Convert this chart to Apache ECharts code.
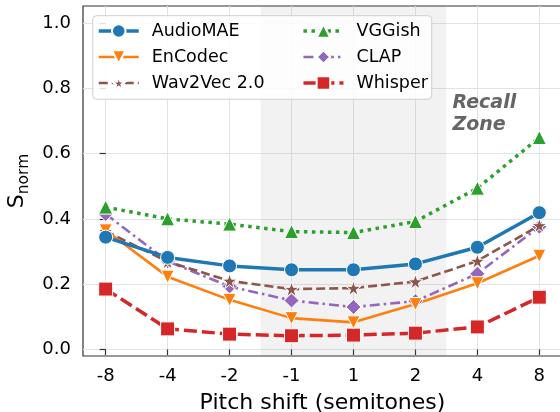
<!DOCTYPE html>
<html>
<head>
<meta charset="utf-8">
<script src="https://cdn.jsdelivr.net/npm/echarts@6/dist/echarts.min.js"></script>
<style>html,body{margin:0;padding:0;background:#fff;}#c{width:560px;height:412px;}</style>
</head>
<body>
<div id="c"></div>
<script>
const categories = ['-8', '-4', '-2', '-1', '1', '2', '4', '8'];
const audioMAE = [0.344, 0.282, 0.256, 0.244, 0.244, 0.262, 0.313, 0.419];
const enCodec  = [0.365, 0.223, 0.152, 0.096, 0.083, 0.139, 0.203, 0.287];
const wav2vec  = [0.362, 0.269, 0.210, 0.185, 0.188, 0.208, 0.271, 0.380];
const vggish   = [0.436, 0.400, 0.384, 0.361, 0.358, 0.392, 0.494, 0.649];
const clap     = [0.415, 0.270, 0.193, 0.150, 0.130, 0.148, 0.232, 0.376];
const whisper  = [0.185, 0.063, 0.047, 0.042, 0.044, 0.050, 0.069, 0.160];
const yTicks = [0.0, 0.2, 0.4, 0.6, 0.8, 1.0];
const recallZone = ['-1', '2'];

const FONT = 'DejaVu Sans';
const starPath = 'path://M0,-10 L2.245,-3.09 L9.51,-3.09 L3.633,1.18 L5.88,8.09 L0,3.82 L-5.88,8.09 L-3.633,1.18 L-9.51,-3.09 L-2.245,-3.09 Z';

function pts(arr) { return arr.map((v, i) => [i, v]); }
const xIdx = categories.map((c, i) => i);

const styles = {
  'AudioMAE':    { color: '#1f77b4', width: 3.5, dash: 'solid' },
  'EnCodec':     { color: '#ff7f0e', width: 2.6, dash: 'solid' },
  'Wav2Vec 2.0': { color: '#8c564b', width: 2.6, dash: [9, 4] },
  'VGGish':      { color: '#2ca02c', width: 3.5, dash: [3.5, 4.5] },
  'CLAP':        { color: '#9467bd', width: 2.6, dash: [10, 4, 2.5, 4] },
  'Whisper':     { color: '#d62728', width: 3.5, dash: [13, 5] }
};

function mk(name, data, symbol, size, extra) {
  const s = styles[name];
  return Object.assign({
    name: name, type: 'line', data: pts(data),
    symbol: symbol, symbolSize: size,
    lineStyle: { color: s.color, width: s.width, type: s.dash, cap: 'butt' },
    itemStyle: { color: s.color, borderColor: '#fff', borderWidth: 1 },
    emphasis: { disabled: true },
    animation: false, z: 3
  }, extra || {});
}

const zoneStart = categories.indexOf(recallZone[0]) - 0.5;
const zoneEnd = categories.indexOf(recallZone[1]) + 0.5;

const series = [
  mk('Whisper', whisper, 'rect', 14, {
    markArea: {
      silent: true,
      itemStyle: { color: 'rgba(128,128,128,0.1)' },
      data: [[{ xAxis: zoneStart }, { xAxis: zoneEnd }]]
    }
  }),
  mk('CLAP', clap, 'diamond', 15),
  mk('VGGish', vggish, 'triangle', 14),
  mk('Wav2Vec 2.0', wav2vec, starPath, 15),
  mk('EnCodec', enCodec, 'triangle', 13, { symbolRotate: 180 }),
  mk('AudioMAE', audioMAE, 'circle', 14)
];

function legendItem(name) {
  const s = styles[name];
  return { name: name, lineStyle: { width: s.width, type: s.dash, color: s.color } };
}

const legendBase = {
  orient: 'vertical', top: 22, padding: 0,
  itemWidth: 40, itemHeight: 17, itemGap: 8,
  textStyle: { fontFamily: FONT, fontSize: 17.5, color: '#000', padding: [0, 0, 0, 8] },
  z: 8, selectedMode: false
};

const chart = echarts.init(document.getElementById('c'), null, { renderer: 'canvas' });
chart.setOption({
  backgroundColor: '#fff',
  animation: false,
  textStyle: { fontFamily: FONT },
  grid: { left: 83, top: 6, right: -2, bottom: 56, outerBoundsMode: 'none', containLabel: false,
          show: true, borderColor: '#333', borderWidth: 1.2, backgroundColor: 'transparent' },
  xAxis: {
    type: 'value', min: -0.366, max: 7.366,
    axisLine: { show: false },
    axisTick: { show: true, length: 6, lineStyle: { color: '#333', width: 1.2 }, customValues: xIdx },
    axisLabel: { customValues: xIdx, formatter: v => categories[Math.round(v)], fontSize: 18, color: '#000', margin: 11, fontFamily: FONT },
    splitLine: { show: true, lineStyle: { color: '#e3e3e3', width: 1 } },
    name: 'Pitch shift (semitones)', nameLocation: 'middle', nameGap: 36,
    nameTextStyle: { fontSize: 22, color: '#000', fontFamily: FONT }
  },
  yAxis: {
    type: 'value', min: -0.02, max: 1.052,
    axisLine: { show: false },
    axisTick: { show: true, length: 6, lineStyle: { color: '#333', width: 1.2 }, customValues: yTicks },
    axisLabel: { customValues: yTicks, formatter: v => v.toFixed(1), fontSize: 18, color: '#000', margin: 12, fontFamily: FONT },
    splitLine: { show: true, lineStyle: { color: '#e3e3e3', width: 1 } },
    name: '{s|S}{sub|norm}', nameLocation: 'middle', nameRotate: 90, nameGap: 50,
    nameTextStyle: {
      rich: {
        s: { fontSize: 22, fontFamily: FONT, color: '#000', verticalAlign: 'bottom', lineHeight: 26 },
        sub: { fontSize: 15.5, fontFamily: FONT, color: '#000', verticalAlign: 'bottom', lineHeight: 26, padding: [0, 0, -3, 0] }
      }
    }
  },
  legend: [
    Object.assign({}, legendBase, { left: 97, data: ['AudioMAE', 'EnCodec', 'Wav2Vec 2.0'].map(legendItem) }),
    Object.assign({}, legendBase, { left: 301.7, data: ['VGGish', 'CLAP', 'Whisper'].map(legendItem) })
  ],
  graphic: [
    {
      type: 'rect', z: 7, silent: true,
      shape: { x: 92.7, y: 15.7, width: 339, height: 83.6, r: 4 },
      style: { fill: 'rgba(255,255,255,0.85)', stroke: '#d0d0d0', lineWidth: 1 }
    },
    {
      type: 'text', z: 7, left: 452.5, top: 92, silent: true,
      style: { text: 'Recall\nZone', font: 'italic bold 19px "DejaVu Sans"', fill: '#656565', lineHeight: 22 }
    }
  ],
  series: series
});
</script>
</body>
</html>
